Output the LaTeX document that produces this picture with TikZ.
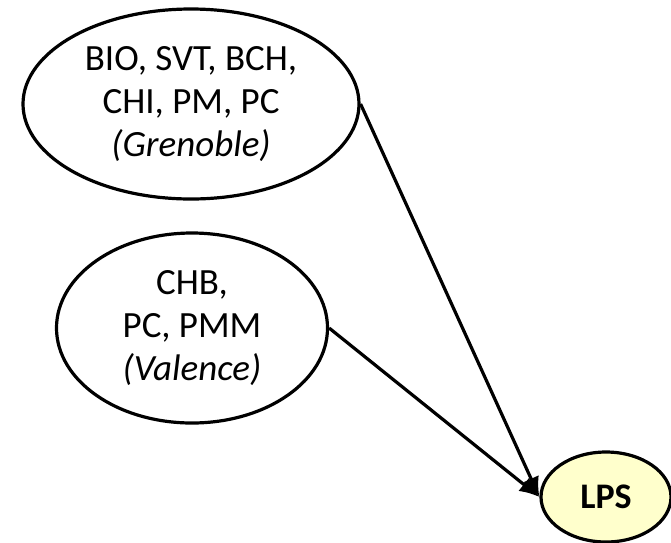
\documentclass[tikz,border=0pt]{standalone}
\usepackage{fontspec}
\setmainfont{Carlito}
\usetikzlibrary{shapes,arrows.meta}

\begin{document}
\begin{tikzpicture}[x=1pt, y=-1pt,
    site/.style={ellipse, draw, line width=3.2pt, inner sep=0pt, align=center,
        font=\fontsize{37}{43}\selectfont},
    link/.style={line width=3.2pt, -{Latex[length=20pt,width=17pt]}}]
        \useasboundingbox (0,0) rectangle (671,542);
        \node[site, minimum width=336, minimum height=190] (grenoble) at (191,104)
            {BIO, SVT, BCH,\\CHI, PM, PC\\\textit{(Grenoble)}};
        \node[site, minimum width=271, minimum height=190] (valence) at (192,328)
            {CHB,\\PC, PMM\\\textit{(Valence)}};
        \node[site, fill={rgb,255:red,255;green,255;blue,204}, minimum width=130, minimum height=90,
            font=\fontsize{36}{40}\selectfont\bfseries] (lps) at (606,497) {LPS};
        \draw[link] (grenoble.east) -- (lps.west);
        \draw[link] (valence.east) -- (lps.west);
    \end{tikzpicture}
\end{document}
